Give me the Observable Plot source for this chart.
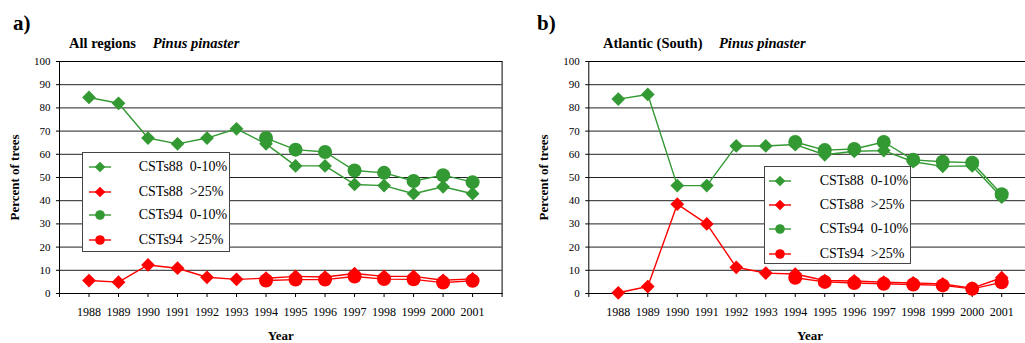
<!DOCTYPE html>
<html>
<head>
<meta charset="utf-8">
<script src="https://cdn.jsdelivr.net/npm/d3@7"></script>
<script src="https://cdn.jsdelivr.net/npm/@observablehq/plot@0.6"></script>
<style>
  html, body { margin: 0; padding: 0; background: #fff; overflow: hidden; }
  #root { position: relative; width: 1025px; height: 343px; overflow: hidden; font-family: "Liberation Serif", "Times New Roman", serif; color: #000; }
  .panel { position: absolute; top: 0; }
  .panel svg { max-width: none !important; font-family: "Liberation Serif", "Times New Roman", serif !important; }
  .panel svg text { font-family: "Liberation Serif", "Times New Roman", serif; }
  .tag { position: absolute; font-weight: bold; font-size: 21px; line-height: 1; }
  .sub { position: absolute; font-weight: bold; font-size: 14.5px; line-height: 1; white-space: pre; }
  .sub i { font-style: italic; }
  .legend { position: absolute; background: #fff; border: 1px solid #444; box-sizing: border-box; }
  .legend .row { position: absolute; left: 0; height: 20px; width: 100%; }
  .legend .row svg { position: absolute; top: 0; }
  .legend .row span { position: absolute; top: 2px; font-size: 14px; line-height: 16px; white-space: pre; }
  svg [aria-label="x-axis label"] text, svg [aria-label="y-axis label"] text { font-weight: bold; font-size: 13px; }
</style>
</head>
<body>
<div id="root"></div>
<script>
// ---- data ----
const years = [1988, 1989, 1990, 1991, 1992, 1993, 1994, 1995, 1996, 1997, 1998, 1999, 2000, 2001];
const seriesNames = ["CSTs88  0-10%", "CSTs88  >25%", "CSTs94  0-10%", "CSTs94  >25%"];
const seriesColors = ["#339933", "#ff0000", "#339933", "#ff0000"];
const seriesSymbols = ["diamond2", "diamond2", "circle", "circle"];

// Panel a) All regions, Pinus pinaster
const allCST88low  = [84.5, 82.0, 67.0, 64.5, 67.0, 71.0, 64.5, 55.0, 55.0, 47.0, 46.5, 43.0, 46.0, 43.0];
const allCST88high = [5.6, 4.9, 12.3, 10.9, 7.0, 6.1, 6.6, 7.4, 7.1, 8.6, 7.4, 7.4, 5.7, 6.3];
const allCST94low  = [null, null, null, null, null, null, 67.0, 62.0, 61.0, 53.0, 52.0, 48.5, 51.0, 48.0];
const allCST94high = [null, null, null, null, null, null, 5.6, 6.0, 6.0, 7.3, 6.2, 6.1, 4.7, 5.5];

// Panel b) Atlantic (South), Pinus pinaster
const atlCST88low  = [83.8, 85.8, 46.5, 46.5, 63.6, 63.6, 64.2, 59.8, 61.3, 61.6, 56.8, 54.8, 55.0, 41.5];
const atlCST88high = [0.3, 3.0, 38.5, 30.0, 11.3, 8.8, 8.4, 5.6, 5.4, 4.9, 4.6, 4.1, 2.3, 6.8];
const atlCST94low  = [null, null, null, null, null, null, 65.3, 61.8, 62.3, 65.3, 57.6, 56.8, 56.4, 42.8];
const atlCST94high = [null, null, null, null, null, null, 6.8, 5.0, 4.5, 4.2, 3.9, 3.5, 2.0, 4.8];

const yTicks = [0, 10, 20, 30, 40, 50, 60, 70, 80, 90, 100];
const xTicks = [1987, 1988, 1989, 1990, 1991, 1992, 1993, 1994, 1995, 1996, 1997, 1998, 1999, 2000, 2001, 2002];
const xTickLabels = years.map(String);

const panels = [
  {tag: "a)", region: "All regions", species: "Pinus pinaster", series: [allCST88low, allCST88high, allCST94low, allCST94high],
   left: 0, width: 512, marginLeft: 59, marginRight: 10.4,
   tagPos: [13, 13], subPos: [69, 36], speciesPos: [152.7, 36],
   legend: {left: 81.7, top: 152.3, width: 148.5, height: 99.5, rows: [166, 191, 214.3, 239.3], sw: 6, tx: 56}},
  {tag: "b)", region: "Atlantic (South)", species: "Pinus pinaster", series: [atlCST88low, atlCST88high, atlCST94low, atlCST94high],
   left: 512, width: 530, marginLeft: 76.3, marginRight: 11.3,
   tagPos: [537, 13], subPos: [603, 36], speciesPos: [719, 36],
   legend: {left: 763.7, top: 166, width: 147.6, height: 98.3, rows: [180, 204.3, 227.7, 253.3], sw: 4.5, tx: 55}}
];

const root = document.getElementById("root");

function symbolPath(name, r) {
  const sym = name === "circle" ? d3.symbolCircle : d3.symbolDiamond2;
  return d3.symbol(sym, Math.PI * r * r)();
}

for (const p of panels) {
  const marks = [
    Plot.gridY(yTicks, {stroke: "#222", strokeOpacity: 1, strokeWidth: 1}),
    Plot.frame({stroke: "#000", strokeWidth: 1}),
    Plot.axisY(yTicks, {fontSize: 11, tickSize: 3, tickPadding: 6, label: "Percent of trees", labelAnchor: "center", labelArrow: "none", labelOffset: 50}),
    Plot.axisX(xTicks, {fontSize: 12, tickSize: 4, tickPadding: 10,
      tickFormat: d => xTickLabels.includes(String(d)) ? String(d) : "",
      label: "Year", labelAnchor: "center", labelArrow: "none", labelOffset: 46})
  ];
  p.series.forEach((vals, i) => {
    const rows = years.map((yr, j) => ({year: yr, value: vals[j]})).filter(d => d.value != null);
    marks.push(Plot.line(rows, {x: "year", y: "value", stroke: seriesColors[i], strokeWidth: 1.4}));
    marks.push(Plot.dot(rows, {x: "year", y: "value", symbol: seriesSymbols[i], r: seriesSymbols[i] === "circle" ? 7 : 6.2, fill: seriesColors[i], stroke: "none"}));
  });
  const chart = Plot.plot({
    width: p.width, height: 343,
    marginLeft: p.marginLeft, marginRight: p.marginRight, marginTop: 61, marginBottom: 50,
    style: {fontFamily: '"Liberation Serif", "Times New Roman", serif', background: "transparent", color: "#000", overflow: "visible", maxWidth: "none"},
    x: {domain: [1987, 2002]},
    y: {domain: [0, 100]},
    marks
  });
  const wrap = document.createElement("div");
  wrap.className = "panel";
  wrap.style.left = p.left + "px";
  wrap.style.width = p.width + "px";
  wrap.appendChild(chart);
  root.appendChild(wrap);

  const tag = document.createElement("div");
  tag.className = "tag"; tag.textContent = p.tag;
  tag.style.left = p.tagPos[0] + "px"; tag.style.top = p.tagPos[1] + "px";
  root.appendChild(tag);

  const sub = document.createElement("div");
  sub.className = "sub"; sub.textContent = p.region;
  sub.style.left = p.subPos[0] + "px"; sub.style.top = p.subPos[1] + "px";
  root.appendChild(sub);
  const sp = document.createElement("div");
  sp.className = "sub"; sp.innerHTML = "<i></i>"; sp.firstChild.textContent = p.species;
  sp.style.left = p.speciesPos[0] + "px"; sp.style.top = p.speciesPos[1] + "px";
  root.appendChild(sp);

  const L = p.legend;
  const lg = document.createElement("div");
  lg.className = "legend";
  Object.assign(lg.style, {left: L.left + "px", top: L.top + "px", width: L.width + "px", height: L.height + "px"});
  seriesNames.forEach((name, i) => {
    const row = document.createElement("div");
    row.className = "row";
    row.style.top = (L.rows[i] - L.top - 10) + "px";
    const s = d3.create("svg").attr("width", 26).attr("height", 20).style("left", L.sw + "px");
    s.append("line").attr("x1", 0).attr("x2", 22).attr("y1", 10).attr("y2", 10).attr("stroke", seriesColors[i]).attr("stroke-width", 1.4);
    s.append("path").attr("d", symbolPath(seriesSymbols[i], 4.8)).attr("transform", "translate(11,10)").attr("fill", seriesColors[i]);
    row.appendChild(s.node());
    const t = document.createElement("span");
    t.textContent = name; t.style.left = L.tx + "px";
    row.appendChild(t);
    lg.appendChild(row);
  });
  root.appendChild(lg);
}
</script>
</body>
</html>
